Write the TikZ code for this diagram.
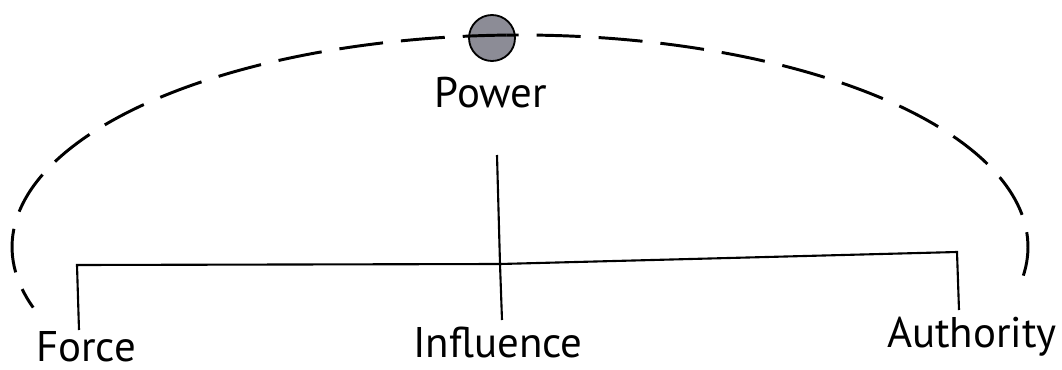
\documentclass[tikz,border=0pt]{standalone}
\usepackage{fontspec}
\setmainfont{PT Sans}
\usepackage{xcolor}
\usetikzlibrary{positioning, calc}
\definecolor{dotgray}{RGB}{140,140,150}

\begin{document}
\begin{tikzpicture}[
    termtext/.style={font=\fontsize{30.5}{34}\selectfont, anchor=base, inner sep=0pt},
    treeline/.style={line width=1.5pt},
    orbit/.style={line width=2.1pt, dash pattern=on 1.1cm off 0.45cm},
    powerdot/.style={circle, draw, line width=1.3pt, fill=dotgray, minimum size=1.15cm, inner sep=0pt}
]
    \useasboundingbox (0,0) rectangle (26.55,9.225);

    % ---------------- TOP: power ----------------
    \node[powerdot] (dot) at (12.3,8.275) {};
    \node[termtext] (power) at (12.275,6.55) {Power};

    % dashed orbit, drawn from the top both ways
    \coordinate (orbittop) at ($(13.0,3.05)+(91.5:12.7 and 5.3)$);
    \draw[orbit] (orbittop) arc[start angle=91.5, end angle=196.6, x radius=12.7, y radius=5.3];
    \draw[orbit, dash phase=0.8cm] (orbittop) arc[start angle=91.5, end angle=-10.8, x radius=12.7, y radius=5.3];

    % ---------------- BOTTOM: the three terms ----------------
    \node[termtext] (force) at (2.15,0.2) {Force};
    \node[termtext] (influence) at (12.45,0.3) {Influence};
    \node[termtext] (authority) at (24.3,0.55) {Authority};

    % tree of lines
    \coordinate (stemtop) at (12.425,5.35);
    \coordinate (joint) at (12.5,2.625);
    \coordinate (leftcorner) at (1.925,2.6);
    \coordinate (rightcorner) at (23.925,2.925);
    \coordinate (forceend) at (1.975,0.975);
    \coordinate (influenceend) at (12.55,1.225);
    \coordinate (authorityend) at (23.975,1.475);

    \draw[treeline] (forceend) -- (leftcorner) -- (joint) -- (rightcorner) -- (authorityend);
    \draw[treeline] (stemtop) -- (joint) -- (influenceend);
\end{tikzpicture}
\end{document}
